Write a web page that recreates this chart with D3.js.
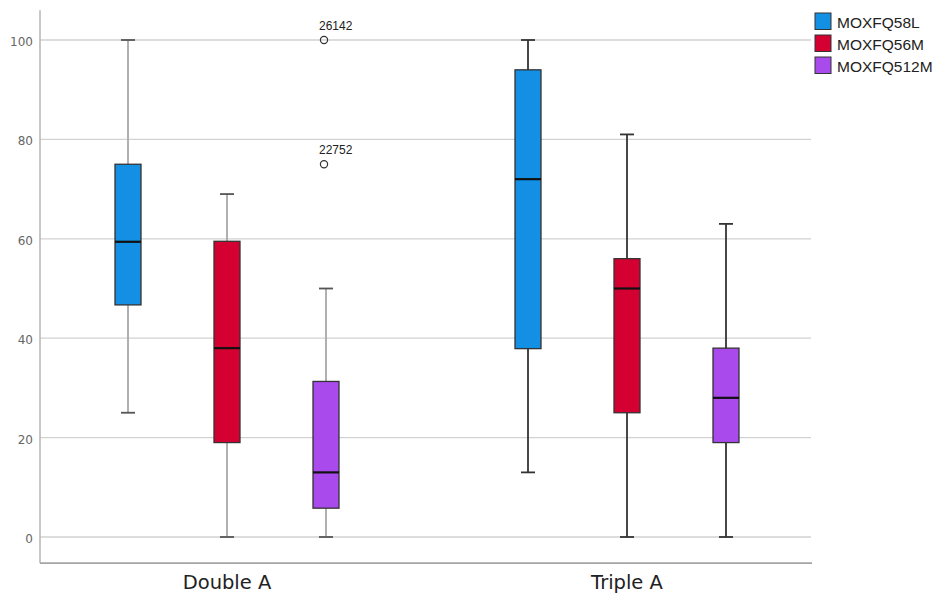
<!DOCTYPE html>
<html>
<head>
<meta charset="utf-8">
<script src="https://cdn.jsdelivr.net/npm/d3@7"></script>
<style>
  html, body { margin: 0; padding: 0; background: #fff; }
  svg { display: block; font-family: "Liberation Sans", Arial, sans-serif; }
</style>
</head>
<body>
<svg id="chart" width="936" height="599"></svg>
<script>
// Groups on the x axis and the three measures drawn in each group
const categories = ["Double A", "Triple A"];
const seriesNames = ["MOXFQ58L", "MOXFQ56M", "MOXFQ512M"];
const seriesColors = ["#1390e4", "#d50032", "#a84aec"];

// Five-number summaries per series, one value per category
const whiskerLow  = [[25, 13], [0, 0], [0, 0]];
const boxLow      = [[46.7, 37.9], [19, 25], [5.8, 19]];
const medians     = [[59.4, 72], [38, 50], [13, 28]];
const boxHigh     = [[75, 94], [59.5, 56], [31.3, 38]];
const whiskerHigh = [[100, 100], [69, 81], [50, 63]];

// Outlying cases, labelled by case number
const outlierCategory = ["Double A", "Double A"];
const outlierSeries   = ["MOXFQ512M", "MOXFQ512M"];
const outlierValues   = [100, 75];
const outlierLabels   = ["26142", "22752"];

const yTicks = [0, 20, 40, 60, 80, 100];

const svg = d3.select("#chart");

const plotLeft = 40, plotRight = 811;
const y = d3.scaleLinear().domain([0, 100]).range([537, 40]);
const yBottom = y(-5.25), yTop = y(106);

const x0 = d3.scaleBand().domain(categories).range([27, 827]);
const x1 = d3.scalePoint().domain(seriesNames).range([101, 299]);
const boxW = 26, capW = 14;

// Horizontal grid lines
svg.append("g")
  .selectAll("line")
  .data(yTicks)
  .join("line")
  .attr("x1", plotLeft).attr("x2", plotRight)
  .attr("y1", d => y(d)).attr("y2", d => y(d))
  .attr("stroke", "#d2d2d2").attr("stroke-width", 1.3);

// Y axis
const yAxis = d3.axisLeft(y).tickValues(yTicks).tickSize(0).tickPadding(7);
const yg = svg.append("g").attr("transform", `translate(${plotLeft},0)`).call(yAxis);
yg.select(".domain").remove();
yg.selectAll("text")
  .attr("font-size", 13).attr("fill", "#666").attr("dy", "0.45em")
  .attr("font-family", "'DejaVu Sans', sans-serif").attr("font-size", 12);
svg.append("line")
  .attr("x1", plotLeft).attr("x2", plotLeft)
  .attr("y1", yTop).attr("y2", yBottom)
  .attr("stroke", "#b5b5b5").attr("stroke-width", 1.5);

// X axis
const xAxis = d3.axisBottom(x0).tickSize(0).tickPadding(12);
const xg = svg.append("g").attr("transform", `translate(0,${yBottom})`).call(xAxis);
xg.select(".domain").remove();
xg.selectAll("text")
  .attr("font-family", "'DejaVu Sans', sans-serif")
  .attr("font-size", 19.5).attr("fill", "#222");
svg.append("line")
  .attr("x1", plotLeft).attr("x2", plotRight + 1)
  .attr("y1", yBottom).attr("y2", yBottom)
  .attr("stroke", "#a5a5a5").attr("stroke-width", 1.8);

// Box plots
const boxes = [];
seriesNames.forEach((s, si) => {
  categories.forEach((c, ci) => {
    boxes.push({
      s, c, si, ci,
      lo: whiskerLow[si][ci], q1: boxLow[si][ci], med: medians[si][ci],
      q3: boxHigh[si][ci], hi: whiskerHigh[si][ci]
    });
  });
});

const bg = svg.append("g")
  .selectAll("g")
  .data(boxes)
  .join("g")
  .attr("transform", d => `translate(${x0(d.c) + x1(d.s)},0)`);

const whiskerColor = d => d.ci === 0 ? "#a8a8a8" : "#333";

bg.append("line")
  .attr("y1", d => y(d.lo)).attr("y2", d => y(d.q1))
  .attr("stroke", whiskerColor).attr("stroke-width", 1.8);
bg.append("line")
  .attr("y1", d => y(d.q3)).attr("y2", d => y(d.hi))
  .attr("stroke", whiskerColor).attr("stroke-width", 1.8);
bg.selectAll(".cap")
  .data(d => [d.lo, d.hi].map(v => ({ v, d })))
  .join("line")
  .attr("class", "cap")
  .attr("x1", -capW / 2).attr("x2", capW / 2)
  .attr("y1", e => y(e.v)).attr("y2", e => y(e.v))
  .attr("stroke", e => e.d.ci === 0 ? "#555" : "#333").attr("stroke-width", 1.8);
bg.append("rect")
  .attr("x", -boxW / 2).attr("width", boxW)
  .attr("y", d => y(d.q3)).attr("height", d => y(d.q1) - y(d.q3))
  .attr("fill", d => seriesColors[d.si])
  .attr("stroke", "#333").attr("stroke-width", 1.3);
bg.append("line")
  .attr("x1", -boxW / 2).attr("x2", boxW / 2)
  .attr("y1", d => y(d.med)).attr("y2", d => y(d.med))
  .attr("stroke", "#111").attr("stroke-width", 2.2);

// Outliers with case labels
const outliers = outlierValues.map((v, i) => ({
  v, label: outlierLabels[i],
  cx: x0(outlierCategory[i]) + x1(outlierSeries[i])
}));
const og = svg.append("g").selectAll("g").data(outliers).join("g");
og.append("circle")
  .attr("cx", d => d.cx - 2).attr("cy", d => y(d.v)).attr("r", 3.6)
  .attr("fill", "none").attr("stroke", "#333").attr("stroke-width", 1.2);
og.append("text")
  .attr("x", d => d.cx - 7).attr("y", d => y(d.v) - 10)
  .attr("font-size", 12).attr("fill", "#222")
  .text(d => d.label);

// Legend
const lg = svg.append("g").attr("transform", "translate(815,13)")
  .selectAll("g").data(seriesNames).join("g")
  .attr("transform", (d, i) => `translate(0,${i * 22})`);
lg.append("rect")
  .attr("width", 16).attr("height", 16.5)
  .attr("fill", (d, i) => seriesColors[i])
  .attr("stroke", "#333").attr("stroke-width", 1);
lg.append("text")
  .attr("x", 22).attr("y", 15)
  .attr("font-size", 15.5).attr("fill", "#222")
  .text(d => d);
</script>
</body>
</html>
